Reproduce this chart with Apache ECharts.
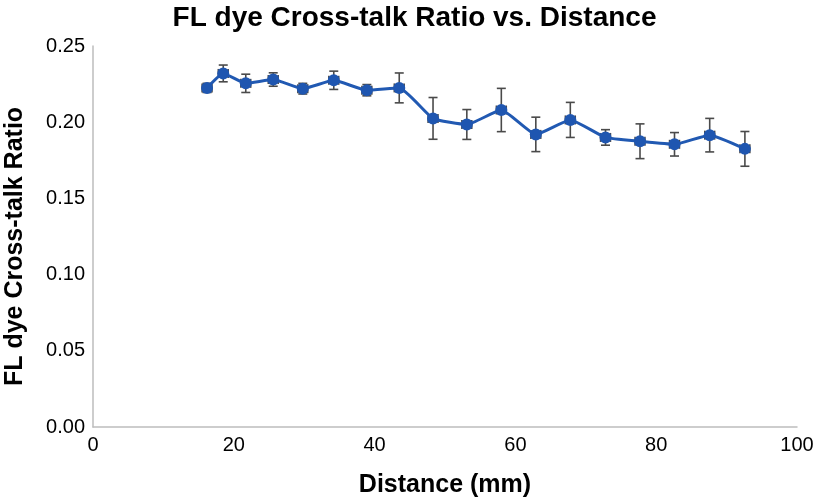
<!DOCTYPE html>
<html>
<head>
<meta charset="utf-8">
<script src="https://cdn.jsdelivr.net/npm/echarts@6/dist/echarts.min.js"></script>
<style>html,body{margin:0;padding:0;background:#fff}#c{width:829px;height:500px}</style>
</head>
<body>
<div id="c"></div>
<script>
var distance = [16.2, 18.5, 21.7, 25.6, 29.8, 34.2, 38.9, 43.5, 48.3, 53.1, 58.0, 62.9, 67.8, 72.8, 77.7, 82.6, 87.6, 92.6];
var ratio    = [0.2225, 0.2320, 0.2255, 0.2280, 0.2220, 0.2275, 0.2210, 0.2225, 0.2025, 0.1985, 0.2080, 0.1920, 0.2015, 0.1900, 0.1875, 0.1855, 0.1915, 0.1825];
var ratioErr = [0.0030, 0.0055, 0.0060, 0.0044, 0.0035, 0.0060, 0.0037, 0.0098, 0.0137, 0.0098, 0.0142, 0.0113, 0.0115, 0.0051, 0.0114, 0.0077, 0.0110, 0.0114];
var distErr  = [0.7, 0.7, 0.7, 0.7, 0.7, 0.7, 0.7, 0.7, 0.7, 0.7, 0.7, 0.7, 0.7, 0.7, 0.7, 0.7, 0.7, 0.7];
var yTicks = [0, 0.05, 0.10, 0.15, 0.20, 0.25];
var xTicks = [0, 20, 40, 60, 80, 100];

var lineData = distance.map(function (d, i) { return [d, ratio[i]]; });
var errData = distance.map(function (d, i) { return [d, ratio[i], distErr[i], ratioErr[i]]; });

var chart = echarts.init(document.getElementById('c'));
var font = 'Liberation Sans, Arial, sans-serif';
chart.setOption({
  animation: false,
  title: {
    text: 'FL dye Cross-talk Ratio vs. Distance',
    left: 'center', top: -1,
    textStyle: { fontFamily: font, fontWeight: 'bold', fontSize: 28, color: '#000' }
  },
  grid: { left: 93, right: 32, top: 46, bottom: 73, outerBoundsMode: 'none', containLabel: false },
  xAxis: {
    type: 'value', min: xTicks[0], max: xTicks[xTicks.length - 1], interval: 20,
    name: 'Distance (mm)', nameLocation: 'middle', nameGap: 46,
    nameTextStyle: { fontFamily: font, fontWeight: 'bold', fontSize: 25, color: '#000' },
    axisLine: { lineStyle: { color: '#bdbdbd', width: 1.5 } },
    axisTick: { show: false },
    splitLine: { show: false },
    axisLabel: { fontFamily: font, fontSize: 20, color: '#000', margin: 8 }
  },
  yAxis: {
    type: 'value', min: yTicks[0], max: yTicks[yTicks.length - 1], interval: 0.05,
    name: 'FL dye Cross-talk Ratio', nameLocation: 'middle', nameGap: 65,
    nameTextStyle: { fontFamily: font, fontWeight: 'bold', fontSize: 25, color: '#000',
      padding: [0, 20, 0, 0] },
    axisLine: { show: true, lineStyle: { color: '#bdbdbd', width: 1.5 } },
    axisTick: { show: false },
    splitLine: { show: false },
    axisLabel: { fontFamily: font, fontSize: 20, color: '#000', margin: 8,
      formatter: function (v) { return v.toFixed(2); } }
  },
  series: [
    {
      type: 'custom',
      data: errData,
      z: 3,
      renderItem: function (params, api) {
        var x = api.value(0), y = api.value(1), ex = api.value(2), ey = api.value(3);
        var top = api.coord([x, y + ey]);
        var bot = api.coord([x, y - ey]);
        var lft = api.coord([x - ex, y]);
        var rgt = api.coord([x + ex, y]);
        var c = 4.5, st = { stroke: '#4a4a4a', lineWidth: 1.6 };
        return {
          type: 'group',
          children: [
            { type: 'line', shape: { x1: top[0], y1: top[1], x2: bot[0], y2: bot[1] }, style: st },
            { type: 'line', shape: { x1: top[0] - c, y1: top[1], x2: top[0] + c, y2: top[1] }, style: st },
            { type: 'line', shape: { x1: bot[0] - c, y1: bot[1], x2: bot[0] + c, y2: bot[1] }, style: st },
            { type: 'line', shape: { x1: lft[0], y1: lft[1], x2: rgt[0], y2: rgt[1] }, style: st },
            { type: 'line', shape: { x1: lft[0], y1: lft[1] - c, x2: lft[0], y2: lft[1] + c }, style: st },
            { type: 'line', shape: { x1: rgt[0], y1: rgt[1] - c, x2: rgt[0], y2: rgt[1] + c }, style: st }
          ]
        };
      }
    },
    {
      type: 'line',
      data: lineData,
      z: 4,
      smooth: 0.15,
      symbol: 'circle', symbolSize: 12,
      lineStyle: { color: '#2159b2', width: 3 },
      itemStyle: { color: '#1f56b0' }
    }
  ]
});
</script>
</body>
</html>
